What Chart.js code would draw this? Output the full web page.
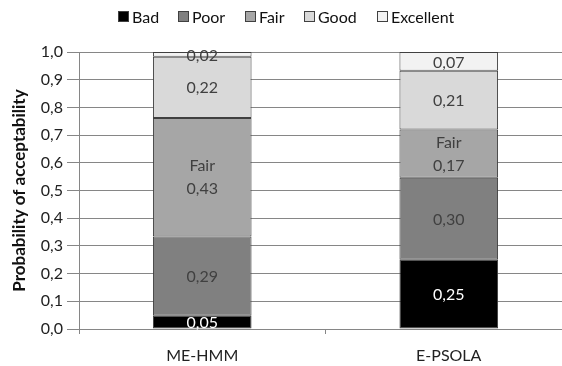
<!DOCTYPE html>
<html>
<head>
<meta charset="utf-8">
<script src="https://cdn.jsdelivr.net/npm/chart.js@4"></script>
<style>
  html, body { margin: 0; padding: 0; background: #fff; }
  #wrap { position: relative; width: 562px; height: 366px; overflow: hidden; }
  #chart-box { position: absolute; left: 0; top: 0; width: 572px; height: 366px; }
  #legend { position: absolute; left: 0; top: 5px; width: 562px; height: 22px; font-family: Lato, sans-serif; font-size: 16px; color: #111; }
  #legend .item { position: absolute; top: 0; display: flex; align-items: center; height: 22px; }
  #legend .box { width: 9px; height: 9px; border: 1px solid #404040; margin-right: 3px; }
</style>
</head>
<body>
<div id="wrap">
  <div id="chart-box"><canvas id="acc-chart" width="572" height="366"></canvas></div>
  <div id="legend"></div>
</div>
<script>
const categories = ["ME-HMM", "E-PSOLA"];
const ratings = ["Bad", "Poor", "Fair", "Good", "Excellent"];
const colors = ["#000000", "#808080", "#a6a6a6", "#d9d9d9", "#f2f2f2"];

// segment heights (sum to 1)
const badValues = [0.048, 0.25];
const poorValues = [0.286, 0.296];
const fairValues = [0.428, 0.174];
const goodValues = [0.221, 0.212];
const excellentValues = [0.017, 0.068];

// labels as printed on the chart
const badLabels = ["0,05", "0,25"];
const poorLabels = ["0,29", "0,30"];
const fairLabels = ["0,43", "0,17"];
const goodLabels = ["0,22", "0,21"];
const excellentLabels = ["0,02", "0,07"];

const seriesValues = [badValues, poorValues, fairValues, goodValues, excellentValues];
const seriesLabels = [badLabels, poorLabels, fairLabels, goodLabels, excellentLabels];

const FONT = "Lato, sans-serif";

// html legend, item left edges as in the original
const legendLeft = [118, 178, 245, 304, 377];
const legendEl = document.getElementById("legend");
ratings.forEach((name, i) => {
  const item = document.createElement("div");
  item.className = "item";
  item.style.left = legendLeft[i] + "px";
  item.innerHTML = `<span class="box" style="background:${colors[i]}"></span><span>${name}</span>`;
  legendEl.appendChild(item);
});

// draws the value in the middle of each segment
const segmentLabels = {
  id: "segmentLabels",
  afterDatasetsDraw(chart) {
    const ctx = chart.ctx;
    ctx.save();
    ctx.font = `16px ${FONT}`;
    ctx.textAlign = "center";
    ctx.textBaseline = "middle";
    chart.data.datasets.forEach((ds, di) => {
      const meta = chart.getDatasetMeta(di);
      meta.data.forEach((bar, i) => {
        const mid = (bar.y + bar.base) / 2;
        ctx.fillStyle = di === 0 ? "#ffffff" : "#404040";
        const text = seriesLabels[di][i];
        if (ds.label === "Fair") {
          ctx.fillText("Fair", bar.x, mid - 11);
          ctx.fillText(text, bar.x, mid + 12);
        } else {
          ctx.fillText(text, bar.x, mid + 1);
        }
      });
    });
    ctx.restore();
  }
};

const ctx = document.getElementById("acc-chart").getContext("2d");
new Chart(ctx, {
  type: "bar",
  data: {
    labels: categories,
    datasets: ratings.map((name, i) => ({
      label: name,
      data: seriesValues[i],
      backgroundColor: colors[i],
      borderColor: "#404040",
      borderWidth: 1,
      borderSkipped: false,
      barPercentage: 0.4,
      categoryPercentage: 1.0,
    })),
  },
  options: {
    responsive: false,
    animation: false,
    layout: { padding: { top: 52, left: 0, right: 0, bottom: 0 } },
    plugins: {
      legend: { display: false },
      tooltip: { enabled: false },
    },
    scales: {
      x: {
        stacked: true,
        grid: { offset: true, drawOnChartArea: false, drawTicks: true, tickLength: 5, color: "#868686" },
        border: { color: "#868686" },
        ticks: { color: "#222", font: { family: FONT, size: 16 }, padding: 12 },
        afterFit: scale => { scale.height = 37; },
      },
      y: {
        stacked: true,
        min: 0,
        max: 1,
        grid: { color: "#868686", tickLength: 12 },
        border: { color: "#868686" },
        ticks: {
          stepSize: 0.1,
          color: "#222",
          font: { family: FONT, size: 16 },
          padding: 4,
          callback: v => v.toFixed(1).replace(".", ","),
        },
        title: {
          display: true,
          text: "Probability of acceptability",
          color: "#111",
          font: { family: FONT, size: 17, weight: "bold" },
          padding: { top: 9, bottom: 0 },
        },
        afterFit: scale => { scale.width = 79; },
      },
    },
  },
  plugins: [segmentLabels],
});
</script>
</body>
</html>
